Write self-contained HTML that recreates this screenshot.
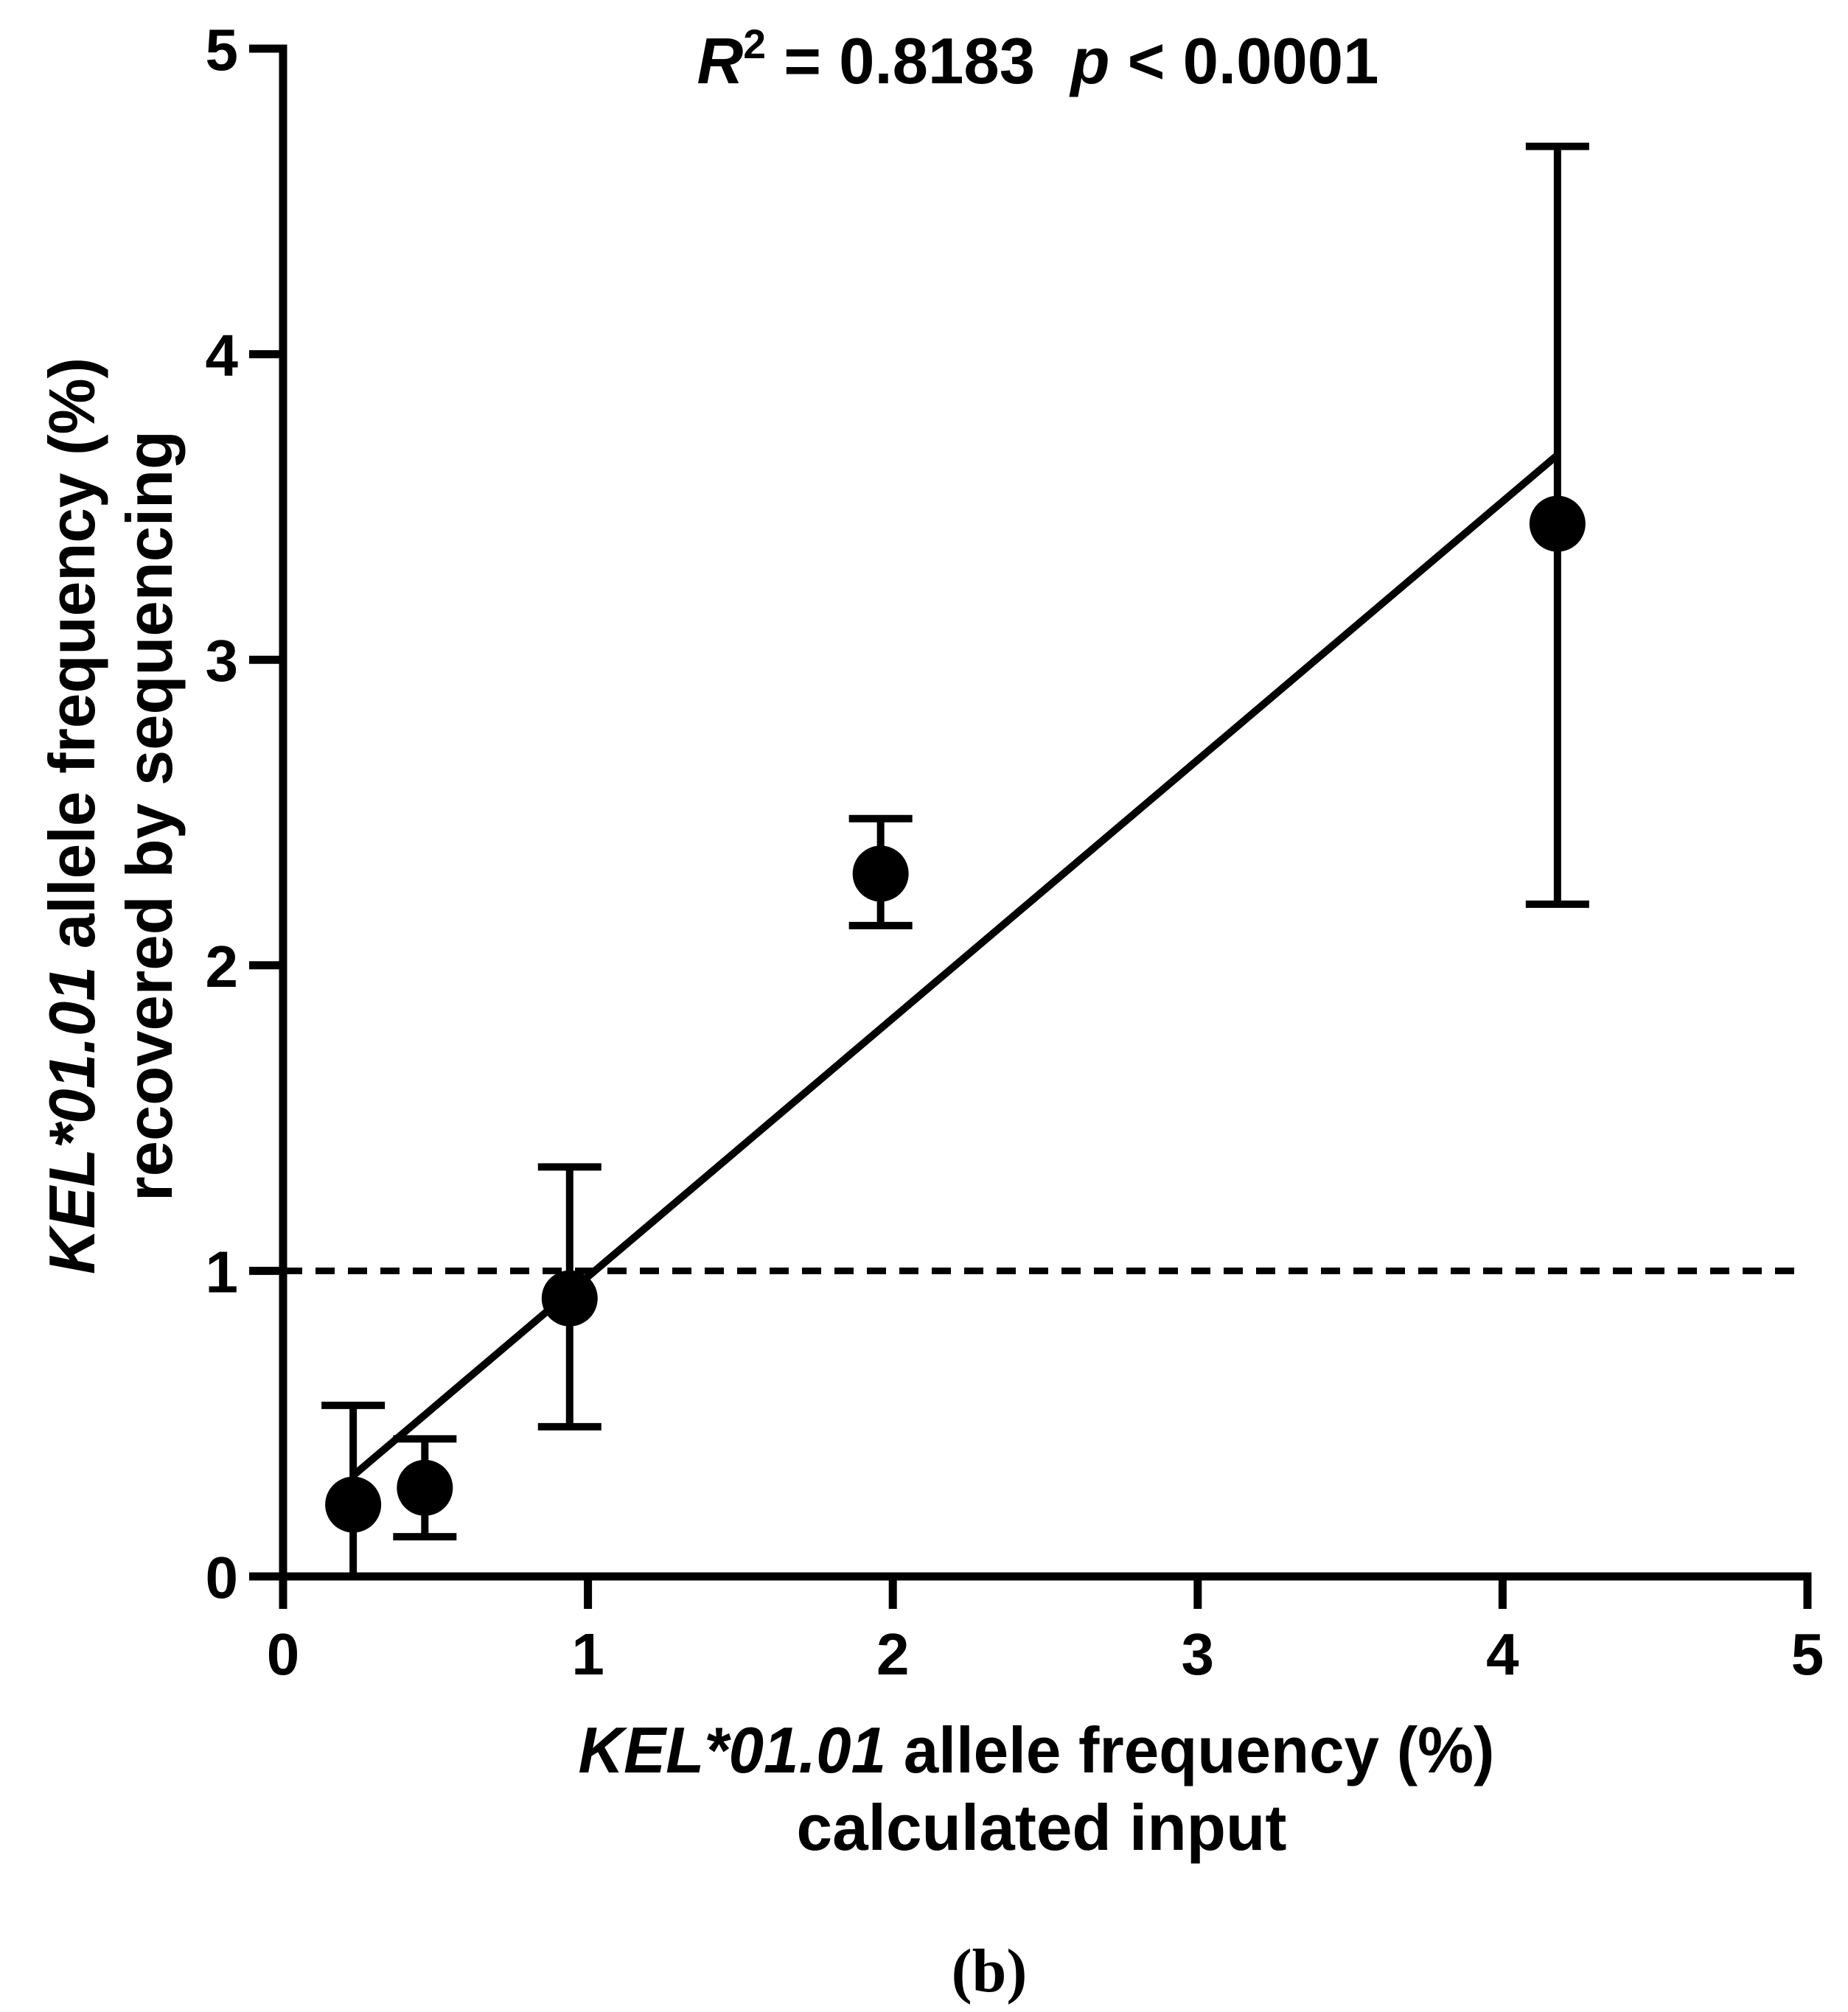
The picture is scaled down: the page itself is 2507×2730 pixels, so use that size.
<!DOCTYPE html>
<html><head><meta charset="utf-8"><style>
html,body{margin:0;padding:0;background:#fff}
svg{display:block}
text{font-family:"Liberation Sans",Arial,sans-serif;font-weight:bold;fill:#000}
</style></head><body>
<svg id="chart" width="2507" height="2730" viewBox="0 0 2507 2730" xmlns="http://www.w3.org/2000/svg">
<g id="axes"></g>
<g id="marks"></g>
<text x="1408" y="113" text-anchor="middle" font-size="88" textLength="925" lengthAdjust="spacingAndGlyphs"><tspan font-style="italic">R</tspan><tspan font-size="56" dy="-34">2</tspan><tspan dy="34"> = 0.8183 &#160;</tspan><tspan font-style="italic">p</tspan><tspan> &lt; 0.0001</tspan></text>
<g transform="rotate(-90)">
<text x="-1107" y="128" text-anchor="middle" font-size="88" textLength="1244" lengthAdjust="spacingAndGlyphs"><tspan font-style="italic">KEL*01.01</tspan> allele frequency (%)</text>
<text x="-1107" y="233" text-anchor="middle" font-size="88" textLength="1046" lengthAdjust="spacingAndGlyphs">recovered by sequencing</text>
</g>
<g>
<text x="1406" y="2405" text-anchor="middle" font-size="88" textLength="1243" lengthAdjust="spacingAndGlyphs"><tspan font-style="italic">KEL*01.01</tspan> allele frequency (%)</text>
<text x="1413" y="2510" text-anchor="middle" font-size="88" textLength="665" lengthAdjust="spacingAndGlyphs">calculated input</text>
</g>
<text x="1342" y="2702" text-anchor="middle" font-size="84" style="font-family:'Liberation Serif',serif">(b)</text>
</svg>
<script>
const xTicks=[0,1,2,3,4,5];
const yTicks=[0,1,2,3,4,5];
const xVals=[0.23,0.465,0.94,1.96,4.18];
const yVals=[0.235,0.29,0.91,2.30,3.445];
const errHi=[0.56,0.45,1.34,2.48,4.68];
const errLo=[0,0.13,0.49,2.13,2.20];
const fitX=[0.23,4.18];
const fitY=[0.33,3.67];
const refY=[1];
const NS="http://www.w3.org/2000/svg";
const X=v=>384+v*(2452-384)/5;
const Y=v=>2139-v*(2139-66)/5;
function mk(tag,attrs,parent){const e=document.createElementNS(NS,tag);for(const k in attrs)e.setAttribute(k,attrs[k]);parent.appendChild(e);return e;}
const axes=document.getElementById('axes'),marks=document.getElementById('marks');
let e;
e=mk('line',{x1:X(0),y1:Y(0)+5.5,x2:X(0),y2:Y(5)-5.5,stroke:'#000','stroke-width':11},axes);


e=mk('line',{x1:X(0)-5.5,y1:Y(0),x2:X(5)+5.5,y2:Y(0),stroke:'#000','stroke-width':11},axes);


yTicks.forEach(t=>{
 e=mk('line',{x1:338,y1:Y(t),x2:X(0),y2:Y(t),stroke:'#000','stroke-width':11},axes);
 
 
 e=mk('text',{x:323,y:Y(t)+29,'text-anchor':'end','font-size':80},axes);
 e.textContent=t;
 
 
});
xTicks.forEach(t=>{
 e=mk('line',{x1:X(t),y1:Y(0),x2:X(t),y2:2183,stroke:'#000','stroke-width':11},axes);
 
 
 e=mk('text',{x:X(t),y:2272,'text-anchor':'middle','font-size':80},axes);
 e.textContent=t;
 
 
});
e=mk('line',{x1:X(0),y1:Y(refY[0]),x2:X(5),y2:Y(refY[0]),stroke:'#000','stroke-width':9,'stroke-dasharray':'26 18'},marks);


e=mk('line',{x1:X(fitX[0]),y1:Y(fitY[0]),x2:X(fitX[1]),y2:Y(fitY[1]),stroke:'#000','stroke-width':10},marks);


xVals.forEach((xv,i)=>{
 const cx=X(xv);
 e=mk('line',{x1:cx,y1:Y(errLo[i]),x2:cx,y2:Y(errHi[i]),stroke:'#000','stroke-width':10},marks);
 
 
 e=mk('line',{x1:cx-43,y1:Y(errHi[i]),x2:cx+43,y2:Y(errHi[i]),stroke:'#000','stroke-width':10},marks);
 
 
 if(errLo[i]>0){
 e=mk('line',{x1:cx-43,y1:Y(errLo[i]),x2:cx+43,y2:Y(errLo[i]),stroke:'#000','stroke-width':10},marks);
 
 
 }
 e=mk('circle',{cx:cx,cy:Y(yVals[i]),r:38,fill:'#000'},marks);
 
 
});
</script>
</body></html>
